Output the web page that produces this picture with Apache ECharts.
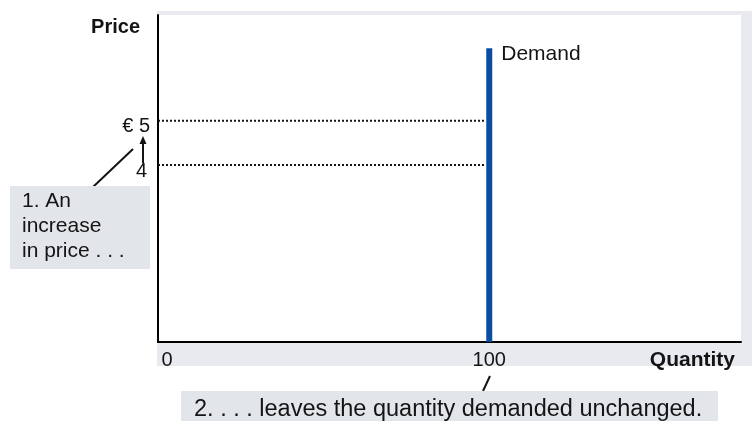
<!DOCTYPE html>
<html>
<head>
<meta charset="utf-8">
<script src="https://cdn.jsdelivr.net/npm/echarts@6/dist/echarts.min.js"></script>
<style>
  html, body { margin: 0; padding: 0; background: #fff; }
  #chart { width: 752px; height: 421px; }
</style>
</head>
<body>
<div id="chart"></div>
<script>
// Perfectly inelastic demand: a vertical demand curve at a fixed quantity.
const quantityDemanded = 100;          // quantity where demand is vertical
const demandPrices = [0, 6.64];        // price span of the demand curve
const prices = [5, 4];                 // the two price levels compared
const xTickLabels = [0, 100];
const yTickLabels = { 5: '€ 5', 4: '4' };

const FONT = 'Liberation Sans, Arial, Helvetica, sans-serif';
const INK = '#141414';

const demandSeries = {
  name: 'Demand',
  type: 'line',
  data: demandPrices.map(p => [quantityDemanded, p]),
  symbol: 'none',
  lineStyle: { color: '#0b4ca2', width: 6, cap: 'butt' },
  z: 5,
  endLabel: {
    show: true,
    formatter: 'Demand',
    color: INK,
    fontFamily: FONT,
    fontSize: 21,
    distance: 12,
    offset: [0, 6]
  }
};

const priceSeries = prices.map(p => ({
  type: 'line',
  data: [[0, p], [quantityDemanded - 1, p]],
  symbol: 'none',
  lineStyle: { color: INK, width: 2, type: [2, 2] },
  z: 3
}));

const chart = echarts.init(document.getElementById('chart'), null, { renderer: 'canvas' });

chart.setOption({
  animation: false,
  backgroundColor: '#ffffff',
  grid: {
    left: 158, right: 11, top: 15, bottom: 79,
    show: true, backgroundColor: '#ffffff', borderWidth: 0
  },
  xAxis: {
    type: 'value',
    min: 0, max: 176, interval: 100,
    name: 'Quantity',
    nameLocation: 'end',
    nameGap: -6,
    nameTextStyle: {
      fontFamily: FONT, fontSize: 21, fontWeight: 'bold', color: INK,
      align: 'right', verticalAlign: 'top', lineHeight: 36
    },
    axisLine: { show: true, onZero: false, lineStyle: { color: '#000', width: 2 } },
    axisTick: { show: false },
    splitLine: { show: false },
    axisLabel: {
      margin: 8,
      fontFamily: FONT, fontSize: 20, color: INK,
      showMinLabel: true, showMaxLabel: true,
      formatter: v => {
        if (!xTickLabels.includes(v)) return '';
        return v === 0 ? '{z|0}' : String(v);
      },
      rich: { z: { fontFamily: FONT, fontSize: 20, color: INK, padding: [0, 0, 0, 18] } }
    }
  },
  yAxis: {
    type: 'value',
    min: 0, max: 7.39, interval: 1,
    name: 'Price',
    nameLocation: 'end',
    nameGap: -12,
    nameTextStyle: {
      fontFamily: FONT, fontSize: 20, fontWeight: 'bold', color: INK,
      align: 'right', verticalAlign: 'middle', padding: [0, 18, 0, 0]
    },
    axisLine: { show: true, onZero: false, lineStyle: { color: '#000', width: 2 } },
    axisTick: { show: false },
    splitLine: { show: false },
    axisLabel: {
      margin: 8,
      padding: [12, 0, 0, 0],
      fontFamily: FONT, fontSize: 20, color: INK,
      formatter: v => {
        const t = yTickLabels[v];
        if (!t) return '';
        return v === 4 ? '{f|' + t + '}' : t;
      },
      rich: { f: { fontFamily: FONT, fontSize: 20, color: INK, padding: [0, 3, 0, 0] } }
    }
  },
  series: [...priceSeries, demandSeries],
  graphic: [
    // soft frame behind the plotting area
    {
      type: 'rect', z: -10, silent: true,
      shape: { x: 157, y: 11, width: 600, height: 355 },
      style: { fill: '#e8eaef' }
    },
    // callout 1
    {
      type: 'line', z: 10,
      shape: { x1: 93, y1: 187, x2: 133, y2: 149 },
      style: { stroke: INK, lineWidth: 2 }
    },
    {
      type: 'rect', z: 11,
      shape: { x: 10, y: 186, width: 140, height: 83 },
      style: { fill: '#e2e5ea' }
    },
    {
      type: 'text', z: 12,
      left: 22, top: 189,
      style: {
        text: '1. An\nincrease\nin price . . .',
        font: '21px ' + FONT, fill: INK, lineHeight: 25
      }
    },
    // arrow from 4 up to 5
    {
      type: 'line', z: 10,
      shape: { x1: 143, y1: 163, x2: 143, y2: 142 },
      style: { stroke: INK, lineWidth: 2 }
    },
    {
      type: 'polygon', z: 10,
      shape: { points: [[143, 136], [139.5, 144], [146.5, 144]] },
      style: { fill: INK }
    },
    // callout 2
    {
      type: 'line', z: 10,
      shape: { x1: 483, y1: 391, x2: 490, y2: 376 },
      style: { stroke: INK, lineWidth: 2 }
    },
    {
      type: 'rect', z: 11,
      shape: { x: 181, y: 391, width: 537, height: 40 },
      style: { fill: '#e2e5ea' }
    },
    {
      type: 'text', z: 12,
      left: 194, top: 398,
      style: {
        text: '2. . . . leaves the quantity demanded unchanged.',
        font: '23.5px ' + FONT, fill: INK
      }
    }
  ]
});
</script>
</body>
</html>
